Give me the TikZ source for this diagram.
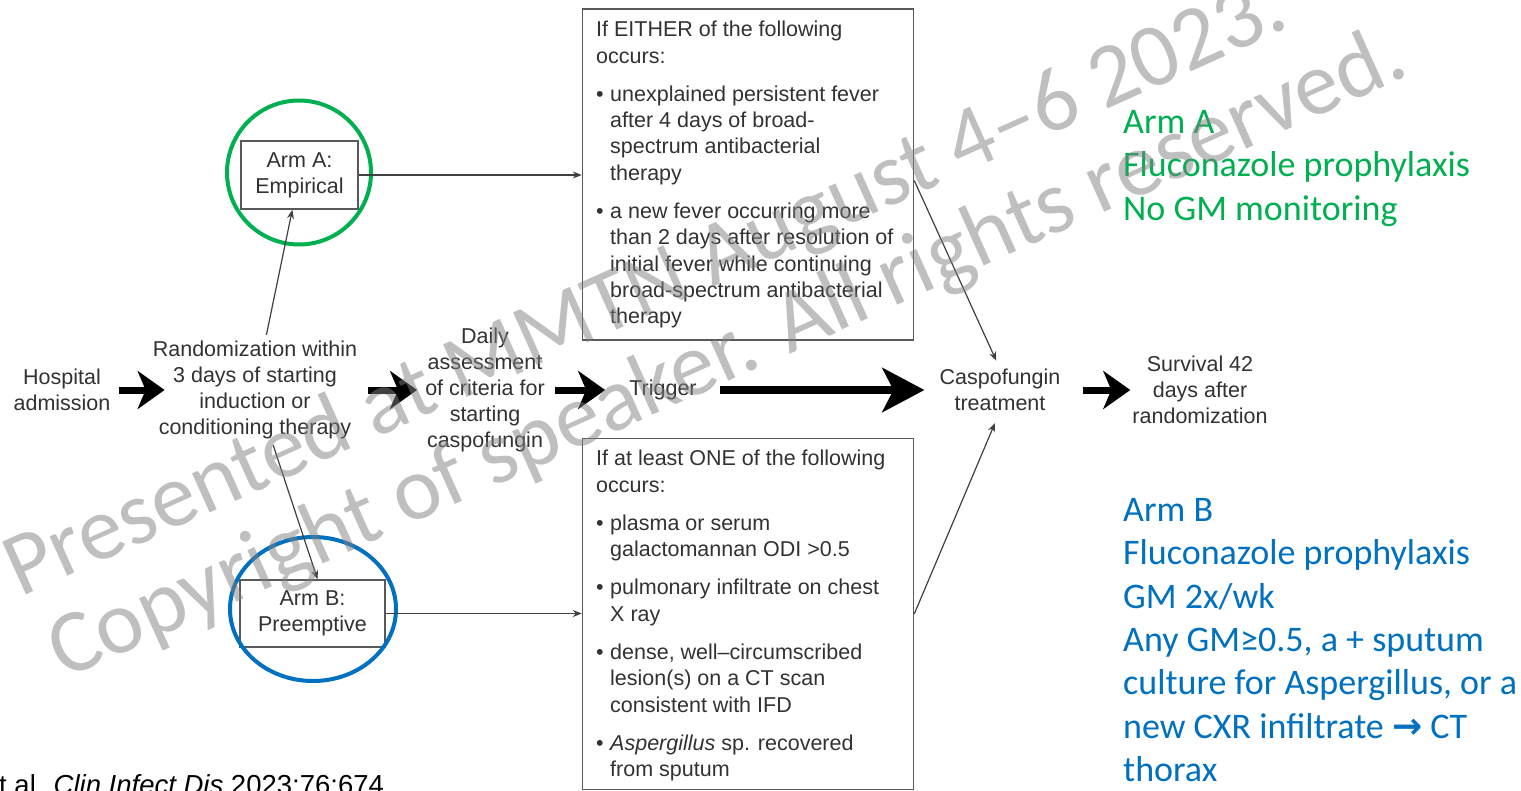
\documentclass[tikz,border=0pt]{standalone}
\usepackage{fontspec}
\setmainfont{Liberation Sans}
\newfontfamily\calib{Carlito}
\newfontfamily\dejavu{DejaVu Sans}
\usetikzlibrary{arrows.meta}
\definecolor{pptgreen}{RGB}{0,176,80}
\definecolor{pptblue}{RGB}{0,112,192}
\definecolor{txt}{RGB}{50,50,50}
\newcommand{\bul}{\makebox[14pt][l]{•}}
\newcommand{\ind}{\hspace*{14pt}}
\begin{document}
\begin{tikzpicture}[x=1pt,y=-1pt,
  lbl/.style={font=\fontsize{21.5}{26}\selectfont, text=txt, align=center, inner sep=0pt},
  boxtext/.style={font=\fontsize{21.5}{26.3}\selectfont, text=txt, align=left, inner sep=0pt, anchor=north west},
  frame/.style={draw=black!65, line width=1.5pt, inner sep=0pt},
  bigarrow/.style={line width=7pt, -{Stealth[length=27pt,width=38pt,inset=8pt]}},
  hugearrow/.style={line width=8pt, -{Stealth[length=42pt,width=44pt,inset=11pt]}},
  thinarrow/.style={draw=black!75, line width=1.2pt, -{Stealth[length=9pt,width=7pt]}},
  note/.style={font=\calib\fontsize{36}{43.4}\selectfont, align=left, anchor=north west, inner sep=0pt},
  wm/.style={font=\calib\fontsize{90}{100}\selectfont, text=black!50, text opacity=0.5, rotate=24.2, anchor=base west, inner sep=0pt}
]
\useasboundingbox (0,0) rectangle (1521,790);
\fill[white] (0,0) rectangle (1521,790);

% main row
\node[lbl] (hosp) at (62,390) {Hospital\\admission};
\node[lbl] (rand) at (255,390) {Randomization within\\3 days of starting\\induction or\\conditioning therapy};
\node[lbl] (daily) at (485,390) {Daily\\assessment\\of criteria for\\starting\\caspofungin};
\node[lbl] (trig) at (663,390) {Trigger};
\node[lbl] (casp) at (1000,390) {Caspofungin\\treatment};
\node[lbl] (surv) at (1200,390) {Survival 42\\days after\\randomization};

\draw[bigarrow, shorten <=8pt, shorten >=-12pt] (hosp) -- (rand);
\draw[bigarrow, shorten <=11pt, shorten >=8pt] (rand) -- (daily);
\draw[bigarrow, shorten <=10pt, shorten >=24pt] (daily) -- (trig);
\draw[hugearrow, shorten <=23pt, shorten >=15pt] (trig) -- (casp);
\draw[bigarrow, shorten <=22pt, shorten >=2pt] (casp) -- (surv);

% arms
\node[frame, lbl, minimum width=117pt, minimum height=68pt] (armA) at (299.5,175) {Arm A:\\Empirical};
\node[frame, lbl, minimum width=145pt, minimum height=67pt] (armB) at (312.5,613.5) {Arm B:\\Preemptive};
\draw[pptgreen, line width=4pt] (299,172.5) circle[radius=72pt];
\draw[pptblue, line width=4pt] (313,609) ellipse[x radius=83pt, y radius=72pt];

% criteria boxes
\node[frame, minimum width=331pt, minimum height=331pt] (topbox) at (748,174.5) {};
\node[frame, minimum width=331pt, minimum height=351pt] (botbox) at (748,614) {};
\node[boxtext] (toptext) at (596,21) {If EITHER of the following\\
occurs:\\[12pt]
\bul unexplained persistent fever\\
\ind after 4 days of broad-\\
\ind spectrum antibacterial\\
\ind therapy\\[12pt]
\bul a new fever occurring more\\
\ind than 2 days after resolution of\\
\ind initial fever while continuing\\
\ind broad-spectrum antibacterial\\
\ind therapy};
\node[boxtext] (bottext) at (596,450) {If at least ONE of the following\\
occurs:\\[12pt]
\bul plasma or serum\\
\ind galactomannan ODI >0.5\\[12pt]
\bul pulmonary infiltrate on chest\\
\ind X ray\\[12pt]
\bul dense, well–circumscribed\\
\ind lesion(s) on a CT scan\\
\ind consistent with IFD\\[12pt]
\bul \textit{Aspergillus} sp. recovered\\
\ind from sputum};

% thin connectors
\draw[thinarrow, shorten <=6pt] (rand) -- (armA);
\draw[thinarrow, shorten <=6pt] (rand) -- ([xshift=5pt]armB.north);
\draw[thinarrow] (armA.east) -- (armA.east -| topbox.west);
\draw[thinarrow] (armB.east) -- (armB.east -| botbox.west);
\draw[thinarrow, shorten >=9pt] ([yshift=-6pt]topbox.east) -- (casp.north);
\draw[thinarrow, shorten >=13pt] (botbox.east) -- (casp.south);

% side notes
\node[note, text=pptgreen] (noteA) at (1123,110) {Arm A\\Fluconazole prophylaxis\\No GM monitoring};
\node[note, text=pptblue] (noteB) at (1123,498) {Arm B\\Fluconazole prophylaxis\\GM 2x/wk\\Any GM≥0.5, a + sputum\\culture for Aspergillus, or a\\new CXR infiltrate {\dejavu\bfseries →} CT\\thorax};

% citation
\node[font=\fontsize{27.5}{30}\selectfont, anchor=base west, inner sep=0pt] (cite) at (-1,794) {t al. \textit{Clin Infect Dis} 2023;76:674};

% watermark
\node[wm] (wm1) at (20,598) {Presented at MMTN August 4–6 2023.};
\node[wm] (wm2) at (64,680) {Copyright of speaker. All rights reserved.};
\end{tikzpicture}
\end{document}
